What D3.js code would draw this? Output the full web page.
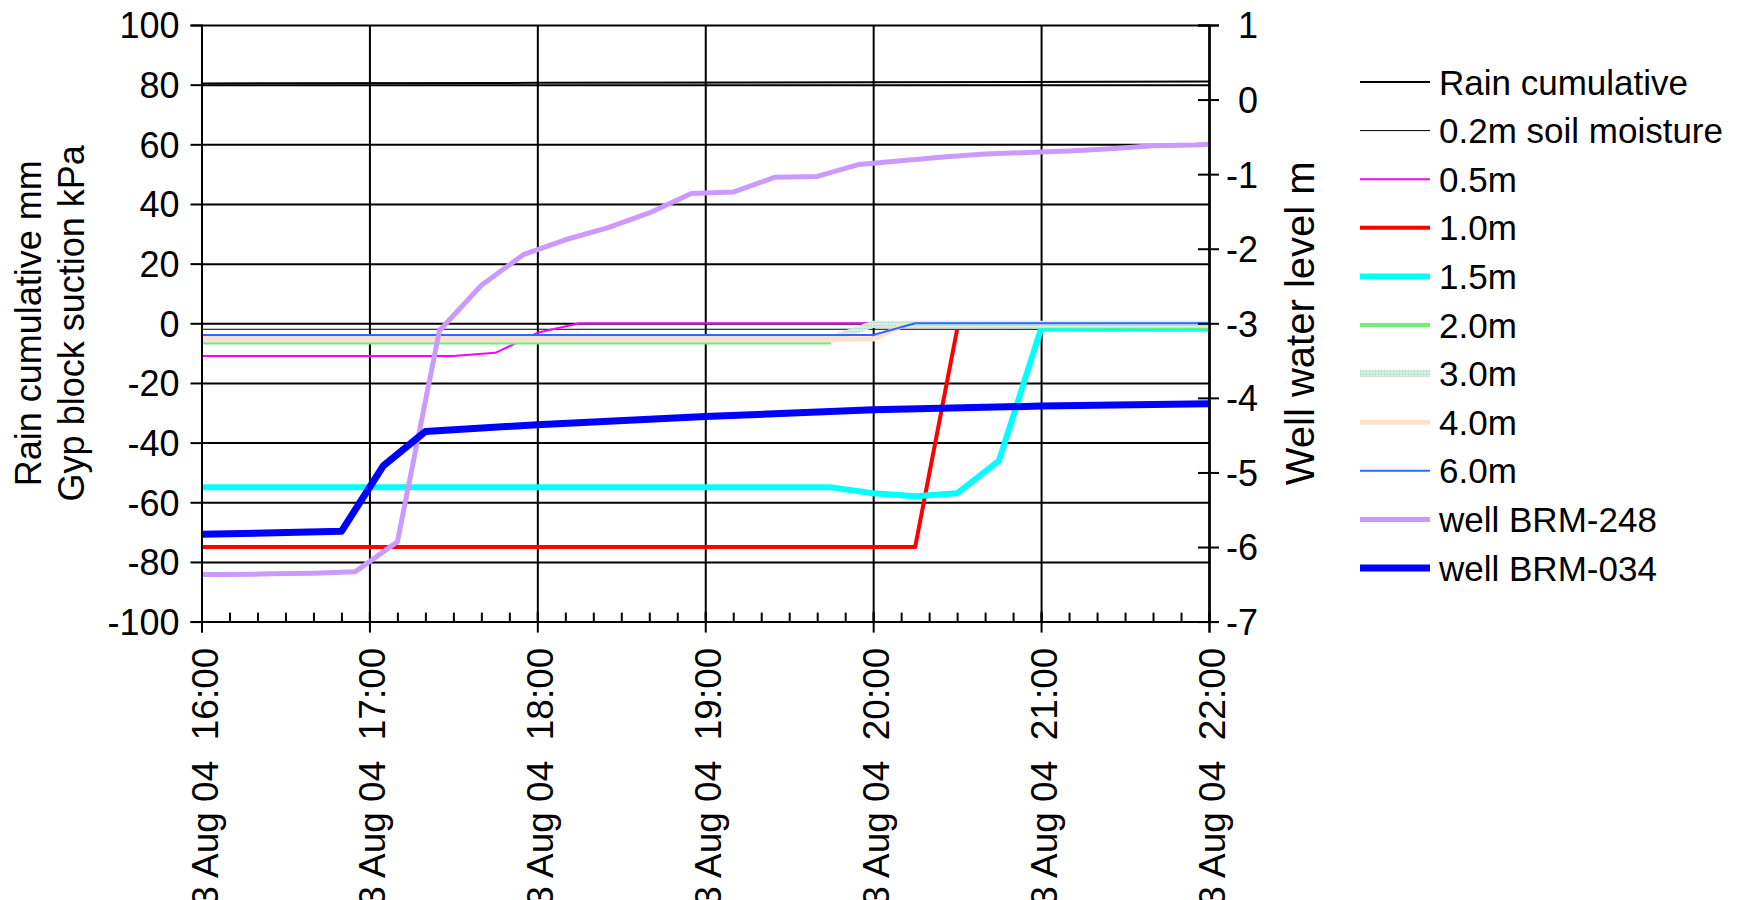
<!DOCTYPE html>
<html>
<head>
<meta charset="utf-8">
<script src="https://cdn.jsdelivr.net/npm/d3@7"></script>
<style>
  body { margin: 0; background: #fff; }
  svg { display: block; font-family: "Liberation Sans", Arial, sans-serif; }
</style>
</head>
<body>
<div id="chart"></div>
<script>
// tick values
const hourTicks = ["16:00", "17:00", "18:00", "19:00", "20:00", "21:00", "22:00"];
const leftTicks = [-100, -80, -60, -40, -20, 0, 20, 40, 60, 80, 100];
const rightTicks = [-7, -6, -5, -4, -3, -2, -1, 0, 1];

// series, [time, value]; null = no reading
const rainCumulative = [["16:00", 80.4], ["18:00", 80.6], ["20:00", 80.8], ["22:00", 81.1]];
const soil02 = [["16:00", -2], ["22:00", -2]];
const soil05 = [["16:00", -11], ["17:30", -11], ["17:45", -9.9], ["18:00", -3.2], ["18:15", 0], ["22:00", 0]];
const soil10 = [["16:00", -75], ["20:15", -75], ["20:30", -2]];
const soil15 = [["16:00", -55], ["19:45", -55], ["20:00", -57], ["20:15", -58], ["20:30", -57],
                ["20:45", -46], ["21:00", -1.8], ["22:00", -1.8]];
const soil20 = [["16:00", -6.4], ["19:45", -6.4], ["19:50", null], ["20:00", -0.8], ["22:00", -1.2]];
const soil30 = [["16:00", -5.3], ["19:45", -5.3], ["20:00", -0.3], ["22:00", -0.3]];
const soil40 = [["16:00", -5.3], ["20:00", -5.3], ["20:10", -1.0]];
const soil60 = [["16:00", -3.9], ["20:00", -3.9], ["20:15", 0], ["22:00", 0]];
const wellBRM248 = [["16:00", -6.37], ["16:10", -6.37], ["16:25", -6.36], ["16:40", -6.35], ["16:55", -6.33],
                    ["17:10", -5.93], ["17:25", -3.1], ["17:40", -2.49], ["17:55", -2.08], ["18:10", -1.88],
                    ["18:25", -1.72], ["18:40", -1.52], ["18:55", -1.26], ["19:10", -1.24], ["19:25", -1.04],
                    ["19:40", -1.03], ["19:55", -0.87], ["20:10", -0.82], ["20:25", -0.77], ["20:40", -0.73],
                    ["20:55", -0.71], ["21:10", -0.69], ["21:25", -0.66], ["21:40", -0.62], ["21:55", -0.61],
                    ["22:00", -0.6]];
const wellBRM034 = [["16:00", -5.83], ["16:50", -5.79], ["17:05", -4.91], ["17:20", -4.45], ["18:00", -4.36],
                    ["19:00", -4.25], ["20:00", -4.16], ["21:00", -4.11], ["22:00", -4.08]];

// drawing order = excel series order
const series = [
    {name: "Rain cumulative",     data: rainCumulative, axis: "left",  color: "#000000", width: 2},
    {name: "0.2m soil moisture",  data: soil02,         axis: "left",  color: "#000000", width: 1},
    {name: "0.5m",                data: soil05,         axis: "left",  color: "#ff00ff", width: 2},
    {name: "1.0m",                data: soil10,         axis: "left",  color: "#ff0000", width: 4},
    {name: "1.5m",                data: soil15,         axis: "left",  color: "#00ffff", width: 6},
    {name: "2.0m",                data: soil20,         axis: "left",  color: "#70f070", width: 4},
    {name: "3.0m",                data: soil30,         axis: "left",  color: "url(#stipple)", width: 7},
    {name: "4.0m",                data: soil40,         axis: "left",  color: "#ffe0c8", width: 5},
    {name: "6.0m",                data: soil60,         axis: "left",  color: "#3366ff", width: 2},
    {name: "well BRM-248",        data: wellBRM248,     axis: "right", color: "#cc99ff", width: 5},
    {name: "well BRM-034",        data: wellBRM034,     axis: "right", color: "#0000ff", width: 7}
];

const width = 1741;
const height = 900;
const margin = {top: 25, left: 201.5, right: 532, bottom: 278.4};
const innerWidth = width - margin.left - margin.right;
const innerHeight = height - margin.top - margin.bottom;

const parseTime = t => d3.timeParse("%Y-%m-%d %H:%M")("2004-08-03 " + t);

const svg = d3.select("#chart")
    .append("svg")
    .attr("width", width)
    .attr("height", height);

const defs = svg.append("defs");
const pat = defs.append("pattern")
    .attr("id", "stipple")
    .attr("patternUnits", "userSpaceOnUse")
    .attr("width", 3)
    .attr("height", 3);
pat.append("rect").attr("width", 3).attr("height", 3).attr("fill", "#d6eee2");
pat.append("rect").attr("width", 1).attr("height", 1).attr("fill", "#8ccdaf");

const innerChart = svg.append("g")
    .attr("transform", `translate(${margin.left}, ${margin.top})`);

const xScale = d3.scaleTime()
    .domain([parseTime("16:00"), parseTime("22:00")])
    .range([0, innerWidth]);

const yLeft = d3.scaleLinear().domain([-100, 100]).range([innerHeight, 0]);
const yRight = d3.scaleLinear().domain([-7, 1]).range([innerHeight, 0]);

const hourDates = hourTicks.map(parseTime);

//gridlines
innerChart.append("g")
    .attr("class", "grid-y")
    .call(d3.axisLeft(yLeft).tickValues(leftTicks).tickSize(-innerWidth).tickFormat(""))
    .call(g => g.select(".domain").remove())
    .selectAll("line").attr("stroke", "#000").attr("stroke-width", 1);

innerChart.append("g")
    .attr("class", "grid-x")
    .call(d3.axisBottom(xScale).tickValues(hourDates).tickSize(innerHeight).tickFormat(""))
    .call(g => g.select(".domain").remove())
    .selectAll("line").attr("stroke", "#000").attr("stroke-width", 1);

//series lines
const lineGen = yScale => d3.line()
    .defined(d => d[1] !== null)
    .x(d => xScale(parseTime(d[0])))
    .y(d => yScale(d[1]));

innerChart.append("g")
    .attr("class", "lines")
    .selectAll("path")
    .data(series)
    .join("path")
        .attr("d", s => lineGen(s.axis === "left" ? yLeft : yRight)(s.data))
        .attr("fill", "none")
        .attr("stroke", s => s.color)
        .attr("stroke-width", s => s.width)
        .attr("stroke-linejoin", "round");

// plain hyphen minus like excel
const plain = d => String(d);

//left axis
innerChart.append("g")
    .attr("class", "axis-left")
    .call(d3.axisLeft(yLeft).tickValues(leftTicks).tickSize(11).tickPadding(11).tickFormat(plain))
    .call(g => g.selectAll("text").style("font-size", "36px").attr("fill", "#000").attr("dy", "0.36em"));

//right axis, ticks cross the line
innerChart.append("g")
    .attr("transform", `translate(${innerWidth}, 0)`)
    .call(d3.axisLeft(yRight).tickValues(rightTicks).tickSize(11).tickFormat(""));

innerChart.append("g")
    .attr("class", "axis-right")
    .attr("transform", `translate(${innerWidth}, 0)`)
    .call(d3.axisRight(yRight).tickValues(rightTicks).tickSize(10).tickPadding(39).tickFormat(plain))
    .call(g => g.selectAll("text").style("font-size", "36px").attr("fill", "#000")
        .attr("text-anchor", "end").attr("dy", "0.36em"));

//x axis: minor ticks up, hour ticks both ways
innerChart.append("g")
    .attr("transform", `translate(0, ${innerHeight})`)
    .call(d3.axisTop(xScale).ticks(d3.timeMinute.every(10)).tickSize(9).tickFormat(""))
    .call(g => g.select(".domain").remove());

innerChart.append("g")
    .attr("transform", `translate(0, ${innerHeight})`)
    .call(d3.axisTop(xScale).tickValues(hourDates).tickSize(10).tickFormat(""))
    .call(g => g.select(".domain").remove());

const bottomAxis = innerChart.append("g")
    .attr("class", "axis-x")
    .attr("transform", `translate(0, ${innerHeight})`)
    .call(d3.axisBottom(xScale).tickValues(hourDates).tickSize(11).tickFormat(""));

const fmt = d3.timeFormat("%-d %b %y  %H:%M");
bottomAxis.selectAll(".tick")
    .append("text")
        .attr("transform", "translate(0, 26) rotate(-90)")
        .attr("text-anchor", "end")
        .attr("dy", "0.42em")
        .attr("fill", "#000")
        .style("font-size", "37px")
        .style("white-space", "pre")
        .text(d => fmt(d));

svg.selectAll(".domain").attr("stroke", "#000").attr("stroke-width", 2);
innerChart.selectAll("g:not(.grid-x):not(.grid-y) .tick line")
    .attr("stroke", "#000")
    .attr("stroke-width", 2);

//axis titles
svg.append("text")
    .attr("transform", `translate(41, ${margin.top + innerHeight / 2}) rotate(-90)`)
    .attr("text-anchor", "middle")
    .style("font-size", "36px")
    .text("Rain cumulative mm");
svg.append("text")
    .attr("transform", `translate(84, ${margin.top + innerHeight / 2}) rotate(-90)`)
    .attr("text-anchor", "middle")
    .style("font-size", "36px")
    .text("Gyp block suction kPa");
svg.append("text")
    .attr("transform", `translate(1314, ${margin.top + innerHeight / 2}) rotate(-90)`)
    .attr("text-anchor", "middle")
    .style("font-size", "40px")
    .text("Well water level m");

//legend
const legend = svg.append("g")
    .attr("transform", "translate(1360, 82)");

const legendItem = legend.selectAll("g")
    .data(series)
    .join("g")
        .attr("transform", (d, i) => `translate(0, ${i * 48.6})`);

legendItem.append("line")
    .attr("x1", 0).attr("x2", 70)
    .attr("stroke", s => s.color)
    .attr("stroke-width", s => s.width);

legendItem.append("text")
    .attr("x", 79)
    .attr("dy", "0.36em")
    .style("font-size", "35px")
    .text(s => s.name);
</script>
</body>
</html>
